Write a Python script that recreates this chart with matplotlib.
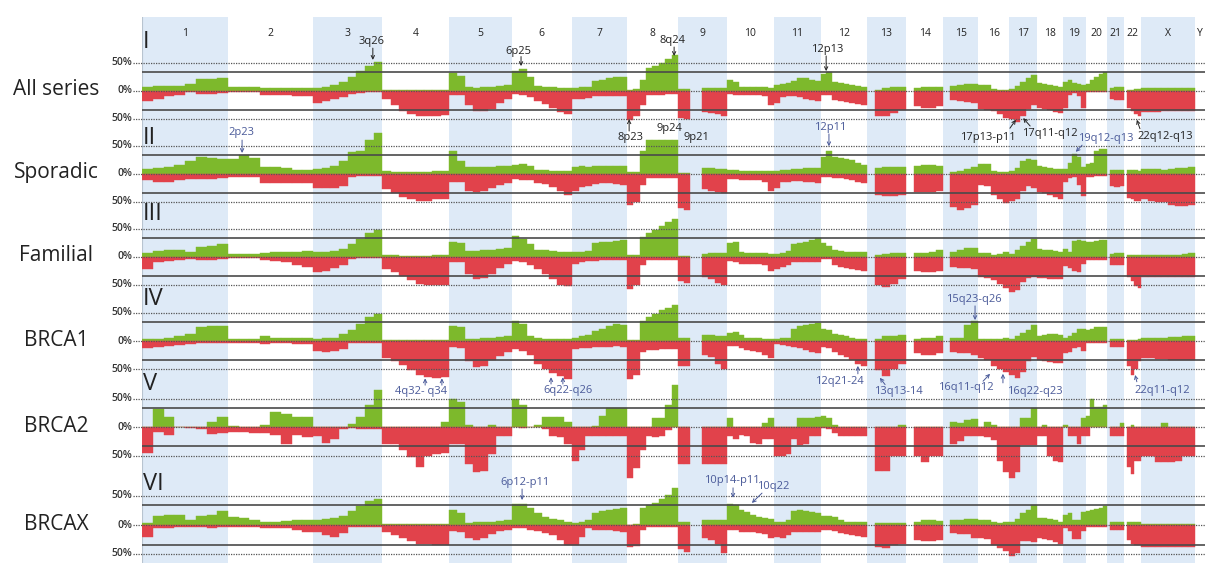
import numpy as np
import matplotlib
matplotlib.use("Agg")
import matplotlib.pyplot as plt
import matplotlib.transforms as mtransforms

nan = float('nan')

CHROMS = ['1', '2', '3', '4', '5', '6', '7', '8', '9', '10', '11', '12', '13', '14',
          '15', '16', '17', '18', '19', '20', '21', '22', 'X', 'Y']
CHROM_LEN = [247, 243, 199, 191, 181, 171, 159, 146, 140, 135, 134, 132, 114, 106,
             100, 89, 79, 76, 64, 62, 47, 50, 155, 58]

PANEL_NAMES = ['All series', 'Sporadic', 'Familial', 'BRCA1', 'BRCA2', 'BRCAX']
PANEL_NUMERALS = ['I', 'II', 'III', 'IV', 'V', 'VI']

# ---- frequency of gains / losses (%) per chromosome, equal bins along each chromosome ----
GAIN_I = [[6, 8, 9, 9, 12, 21, 21, 23], [6, 6, 7, 4, 4, 4, 4, 5], [4, 6, 10, 15, 25, 35, 45, 52],
          [2, 2, 2, 1, 1, 1, 2, 2], [31, 27, 6, 5, 6, 7, 9, 10], [35, 38, 25, 8, 7, 6, 5, 4],
          [5, 6, 7, 18, 20, 22, 24, 25], [2, 3, 20, 40, 45, 50, 56, 63], [3, 3, nan, nan, 4, 4, 4, 4],
          [20, 15, 7, 6, 6, 6, 6, 5], [10, 12, 14, 18, 22, 22, 20, 18], [30, 33, 16, 14, 12, 10, 8, 6],
          [nan, 2, 5, 6, 6], [nan, 5, 6, 6, 6], [nan, 8, 10, 12, 12], [10, 10, 3, 2, 2],
          [3, 8, 16, 22, 28], [14, 12, 10, 8, 6], [15, 20, 14, 12, 10], [12, 20, 25, 30, 33],
          [nan, 4, 6, 6, 6], [nan, 2, 2, 3, 3], [4, 4, 4, 4, 4, 4, 4, 5], []]
LOSS_I = [[18, 14, 10, 7, 3, 5, 5, 4], [3, 3, 3, 7, 8, 8, 9, 10], [22, 18, 14, 12, 5, 4, 3, 3],
          [14, 25, 36, 42, 45, 45, 45, 44], [8, 8, 25, 36, 37, 32, 22, 14], [5, 7, 12, 18, 24, 30, 38, 42],
          [14, 14, 13, 10, 10, 10, 9, 9], [52, 45, 25, 8, 8, 7, 6, 6], [48, 50, nan, nan, 38, 40, 42, 46],
          [6, 7, 7, 7, 8, 8, 10, 25], [22, 12, 10, 10, 12, 14, 16, 18], [8, 8, 16, 18, 20, 22, 24, 26],
          [nan, 45, 46, 40, 34], [nan, 28, 30, 30, 28], [nan, 17, 18, 20, 22], [33, 34, 36, 42, 48],
          [50, 55, 45, 32, 25], [30, 32, 35, 38, 40], [30, 8, 4, 10, 30], [3, 3, 2, 2, 2],
          [nan, 15, 17, 17, 16], [nan, 30, 36, 42, 45], [38, 38, 38, 37, 37, 37, 36, 36], []]

GAIN_II = [[8, 10, 12, 16, 22, 29, 28, 27], [27, 34, 28, 12, 12, 10, 7, 6], [8, 10, 14, 22, 38, 40, 60, 72],
           [4, 3, 3, 3, 3, 3, 4, 4], [40, 22, 12, 12, 12, 12, 14, 14], [16, 18, 14, 6, 6, 5, 5, 5],
           [12, 14, 12, 13, 13, 14, 14, 14], [3, 3, 40, 60, 60, 60, 60, 60], [2, 2, nan, nan, 10, 10, 9, 8],
           [6, 6, 5, 5, 4, 4, 5, 5], [5, 6, 6, 8, 8, 10, 10, 10], [30, 40, 30, 28, 26, 24, 20, 16],
           [nan, 10, 12, 12, 12], [nan, 14, 15, 15, 14], [nan, 3, 4, 8, 12], [18, 18, 4, 3, 3],
           [5, 10, 22, 26, 24], [14, 12, 10, 8, 8], [8, 20, 36, 30, 12], [18, 20, 40, 44, 45],
           [nan, 6, 6, 6, 6], [nan, 6, 7, 6, 5], [8, 8, 8, 6, 8, 10, 10, 12], []]
LOSS_II = [[12, 14, 15, 12, 10, 10, 9, 8], [5, 5, 6, 16, 17, 17, 16, 16], [26, 26, 25, 22, 5, 4, 4, 4],
           [28, 35, 42, 46, 48, 48, 46, 45], [14, 14, 30, 32, 30, 26, 20, 17], [10, 11, 12, 16, 18, 24, 30, 38],
           [30, 24, 22, 18, 17, 17, 18, 20], [55, 50, 20, 8, 8, 7, 7, 7], [62, 64, nan, nan, 28, 30, 32, 34],
           [10, 10, 11, 11, 12, 12, 14, 30], [25, 14, 14, 13, 13, 14, 15, 16], [6, 6, 8, 8, 10, 12, 14, 16],
           [nan, 38, 40, 40, 38], [nan, 32, 33, 33, 30], [nan, 60, 64, 62, 55], [20, 22, 38, 46, 52],
           [48, 45, 30, 22, 25], [32, 35, 38, 42, 46], [14, 8, 5, 20, 40], [5, 5, 4, 4, 4],
           [nan, 22, 24, 24, 22], [nan, 44, 46, 48, 48], [45, 48, 50, 50, 55, 57, 57, 56], []]

GAIN_III = [[6, 11, 12, 12, 8, 18, 20, 22], [5, 5, 5, 6, 8, 9, 9, 10], [8, 9, 10, 14, 22, 32, 42, 48],
            [3, 3, 2, 2, 2, 2, 3, 3], [26, 24, 10, 10, 12, 13, 14, 15], [37, 32, 22, 12, 12, 10, 9, 8],
            [8, 9, 10, 24, 26, 27, 28, 30], [3, 3, 36, 42, 48, 55, 62, 68], [2, 2, nan, nan, 5, 6, 6, 6],
            [24, 26, 8, 7, 6, 6, 6, 5], [5, 6, 10, 22, 25, 27, 30, 33], [25, 20, 12, 10, 9, 8, 8, 8],
            [nan, 3, 5, 6, 6], [nan, 6, 6, 8, 12], [nan, 8, 12, 15, 16], [6, 6, 3, 5, 8],
            [5, 12, 20, 26, 32], [14, 12, 12, 10, 8], [14, 8, 28, 30, 28], [26, 27, 28, 30, 30],
            [nan, 5, 6, 6, 6], [nan, 3, 3, 3, 3], [3, 3, 3, 3, 4, 4, 5, 6], []]
LOSS_III = [[22, 10, 8, 6, 4, 5, 5, 4], [3, 3, 3, 6, 8, 10, 14, 18], [27, 25, 20, 15, 4, 3, 3, 3],
            [22, 27, 34, 42, 48, 50, 51, 50], [9, 9, 30, 40, 38, 30, 20, 12], [8, 10, 14, 22, 30, 40, 50, 52],
            [12, 10, 8, 7, 6, 6, 6, 6], [57, 50, 15, 6, 6, 5, 5, 5], [44, 46, nan, nan, 36, 40, 46, 50],
            [8, 10, 12, 12, 12, 12, 14, 25], [22, 18, 14, 9, 9, 9, 10, 10], [4, 4, 14, 18, 20, 22, 24, 26],
            [nan, 50, 54, 48, 40], [nan, 26, 27, 27, 26], [nan, 18, 20, 20, 22], [36, 38, 42, 48, 55],
            [62, 60, 45, 38, 36], [38, 38, 39, 40, 40], [16, 20, 26, 28, 12], [6, 6, 6, 6, 6],
            [nan, 14, 15, 15, 14], [nan, 36, 44, 52, 56], [36, 36, 36, 36, 36, 36, 36, 36], []]

GAIN_IV = [[3, 3, 6, 9, 12, 25, 26, 27], [3, 3, 4, 8, 6, 5, 5, 6], [4, 5, 6, 12, 20, 30, 42, 48],
           [1, 1, 1, 1, 1, 1, 1, 1], [26, 24, 4, 4, 5, 6, 7, 8], [36, 30, 8, 5, 4, 4, 4, 4],
           [6, 8, 10, 18, 22, 26, 30, 28], [1, 2, 35, 42, 48, 54, 58, 63], [5, 6, nan, nan, 10, 10, 9, 8],
           [14, 16, 10, 6, 5, 5, 4, 4], [4, 5, 6, 22, 26, 28, 30, 32], [22, 20, 12, 10, 8, 6, 4, 3],
           [nan, 4, 8, 9, 10], [nan, 4, 5, 5, 8], [nan, 5, 6, 28, 36], [3, 3, 3, 4, 5],
           [4, 8, 14, 20, 28], [8, 10, 12, 12, 10], [6, 8, 14, 22, 22], [20, 22, 24, 24, 25],
           [nan, 3, 3, 3, 3], [nan, 2, 2, 2, 3], [6, 6, 6, 6, 7, 7, 8, 8], []]
LOSS_IV = [[13, 11, 8, 7, 5, 4, 3, 3], [3, 4, 4, 5, 4, 4, 5, 5], [18, 20, 18, 14, 4, 3, 3, 3],
           [30, 36, 42, 52, 60, 64, 66, 64], [10, 12, 36, 46, 44, 34, 26, 20], [14, 18, 24, 40, 50, 56, 62, 68],
           [14, 13, 12, 10, 10, 10, 9, 10], [68, 60, 20, 16, 16, 15, 15, 15], [44, 45, nan, nan, 25, 28, 40, 50],
           [8, 9, 12, 16, 18, 20, 24, 30], [6, 7, 8, 10, 12, 16, 20, 22], [10, 12, 20, 24, 28, 34, 40, 44],
           [nan, 52, 62, 50, 40], [nan, 22, 24, 24, 22], [nan, 20, 22, 22, 24], [30, 34, 44, 50, 54],
           [60, 66, 55, 35, 28], [33, 35, 37, 38, 39], [22, 20, 12, 10, 18], [4, 4, 4, 4, 4],
           [nan, 10, 10, 10, 10], [nan, 45, 60, 50, 36], [30, 30, 31, 31, 33, 33, 33, 33], []]

GAIN_V = [[0, 32, 18, 0, 0, 0, 10, 18], [2, 0, 0, 4, 26, 24, 18, 18], [0, 0, 0, 0, 6, 18, 40, 66],
          [0, 0, 0, 0, 0, 0, 0, 10], [50, 45, 4, 0, 0, 4, 0, 0], [50, 40, 0, 4, 18, 18, 18, 10],
          [0, 0, 0, 2, 20, 34, 34, 34], [0, 0, 0, 0, 16, 16, 40, 75], [0, 0, nan, nan, 0, 0, 0, 0],
          [16, 0, 0, 0, 0, 0, 8, 16], [0, 0, 0, 0, 16, 16, 16, 18], [20, 16, 4, 0, 0, 0, 0, 0],
          [nan, 0, 0, 0, 4], [nan, 0, 0, 0, 0], [nan, 10, 8, 12, 14], [0, 10, 4, 0, 0],
          [0, 0, 16, 16, 34], [0, 4, 0, 0, 0], [4, 0, 0, 0, 16], [20, 50, 35, 35, 40],
          [nan, 0, 0, 0, 8], [nan, 0, 4, 0, 0], [0, 0, 0, 8, 0, 0, 0, 0], []]
LOSS_V = [[46, 8, 14, 0, 2, 3, 12, 10], [8, 8, 10, 10, 13, 30, 14, 18], [15, 28, 20, 4, 2, 4, 3, 4],
          [30, 30, 40, 52, 70, 50, 48, 46], [30, 30, 65, 80, 78, 48, 15, 15], [0, 2, 0, 0, 4, 15, 18, 30],
          [60, 40, 15, 15, 15, 16, 16, 16], [90, 72, 40, 15, 18, 15, 5, 0], [65, 65, nan, nan, 65, 65, 65, 65],
          [16, 20, 14, 16, 28, 30, 20, 20], [50, 50, 48, 20, 32, 30, 16, 16], [2, 4, 10, 16, 16, 16, 16, 16],
          [nan, 78, 78, 50, 50], [nan, 50, 62, 50, 50], [nan, 30, 24, 16, 16], [16, 18, 22, 60, 80],
          [90, 80, 32, 32, 32], [16, 16, 50, 60, 62], [0, 16, 16, 30, 16], [16, 0, 0, 0, 0],
          [nan, 16, 16, 16, 16], [nan, 70, 82, 60, 60], [50, 50, 62, 62, 62, 60, 50, 50], []]

GAIN_VI = [[3, 16, 17, 17, 8, 16, 18, 24], [14, 12, 8, 6, 6, 7, 8, 8], [8, 10, 12, 16, 24, 32, 42, 44],
           [1, 1, 1, 1, 1, 1, 1, 1], [26, 20, 4, 5, 6, 6, 7, 8], [36, 36, 30, 20, 14, 10, 8, 6],
           [4, 6, 8, 20, 24, 26, 28, 30], [0, 2, 30, 34, 38, 44, 52, 64], [6, 5, nan, nan, 8, 9, 9, 8],
           [36, 34, 26, 22, 18, 14, 12, 10], [5, 6, 8, 24, 26, 24, 22, 20], [16, 15, 14, 8, 6, 6, 5, 5],
           [nan, 3, 3, 3, 3], [nan, 6, 8, 8, 7], [nan, 8, 9, 10, 10], [8, 9, 5, 4, 6],
           [6, 10, 20, 26, 34], [12, 12, 10, 8, 6], [18, 20, 8, 9, 22], [24, 26, 28, 30, 32],
           [nan, 6, 6, 6, 6], [nan, 5, 6, 6, 6], [1, 1, 1, 1, 1, 1, 1, 1], []]
LOSS_VI = [[20, 6, 5, 4, 3, 3, 6, 4], [3, 3, 3, 5, 6, 6, 8, 12], [12, 18, 20, 14, 4, 3, 3, 3],
           [12, 18, 22, 28, 32, 33, 34, 34], [10, 12, 22, 25, 22, 16, 10, 8], [5, 6, 8, 10, 14, 18, 25, 34],
           [34, 20, 6, 8, 9, 9, 10, 12], [38, 36, 8, 4, 3, 3, 3, 3], [42, 46, nan, nan, 22, 26, 32, 48],
           [8, 9, 12, 12, 12, 13, 15, 22], [20, 22, 18, 12, 12, 12, 12, 12], [8, 9, 10, 14, 15, 17, 19, 21],
           [nan, 38, 40, 34, 32], [nan, 26, 27, 28, 26], [nan, 14, 15, 16, 22], [22, 24, 34, 40, 45],
           [54, 48, 28, 28, 30], [22, 24, 26, 30, 32], [6, 10, 24, 24, 10], [3, 3, 3, 3, 3],
           [nan, 9, 9, 9, 9], [nan, 26, 32, 35, 34], [38, 38, 38, 38, 38, 38, 38, 38], []]

GAINS = [GAIN_I, GAIN_II, GAIN_III, GAIN_IV, GAIN_V, GAIN_VI]
LOSSES = [LOSS_I, LOSS_II, LOSS_III, LOSS_IV, LOSS_V, LOSS_VI]

# annotations: (panel, label, text (Mb, %), [arrow (tail Mb, tail %, tip Mb, tip %) ...])
ANNOTATIONS = [
    (0, '3q26', (659, 87), [(662, 76, 662, 55)]),
    (0, '6p25', (1080, 70), [(1087, 61, 1087, 44)]),
    (0, '8q24', (1520, 90), [(1526, 78, 1526, 62)]),
    (0, '12p13', (1966, 74), [(1962, 62, 1962, 35)]),
    (0, '8p23', (1402, -83), [(1397, -72, 1397, -51)]),
    (0, '9p24', (1514, -67), []),
    (0, '9p21', (1591, -83), []),
    (0, '17p13-p11', (2426, -83), [(2489, -67, 2506, -52)]),
    (0, '17q11-q12', (2603, -76), [(2547, -63, 2527, -49)]),
    (0, '22q12-q13', (2935, -81), [(2862, -68, 2853, -52)]),
    (1, '2p23', (284, 74), [(287, 60, 287, 37)]),
    (1, '12p11', (1973, 83), [(1970, 71, 1970, 49)]),
    (1, '19q12-q13', (2765, 62), [(2696, 51, 2678, 39)]),
    (3, '15q23-q26', (2386, 74), [(2389, 62, 2389, 37)]),
    (3, '4q32- q34', (800, -89), [(812, -78, 812, -66), (860, -78, 860, -66)]),
    (3, '6q22-q26', (1222, -88), [(1173, -76, 1173, -64), (1207, -76, 1207, -64)]),
    (3, '12q21-24', (1999, -72), [(2053, -58, 2053, -44)]),
    (3, '13q13-14', (2168, -89), [(2131, -77, 2116, -65)]),
    (3, '16q11-q12', (2363, -83), [(2412, -71, 2432, -58)]),
    (3, '16q22-q23', (2561, -90), [(2469, -74, 2469, -58)]),
    (3, '22q11-q12', (2925, -87), [(2853, -72, 2848, -60)]),
    (5, '6p12-p11', (1098, 74), [(1090, 62, 1090, 43)]),
    (5, '10p14-p11', (1692, 76), [(1695, 64, 1695, 47)]),
    (5, '10q22', (1810, 66), [(1778, 55, 1749, 38)]),
]

# ---------------- style / layout ----------------
plt.rcParams['font.family'] = ['Open Sans', 'DejaVu Sans']
GREEN = '#7db92c'
RED = '#e1424b'
BAND = '#deeaf7'
ANN_BLACK = '#222222'
ANN_BLUE = '#4a5a99'

W, H = 1205, 563
X0_PX, X1_PX = 142, 1205
PX_PER_MB = 0.3487
XMAX = (X1_PX - X0_PX) / PX_PER_MB
PANEL_Y0 = [90.7, 173.7, 256.8, 341.0, 427.2, 525.0]
PANEL_PX50 = [28, 28, 28, 28.3, 28.3, 29]
NUMERAL_Y = [42, 138, 214, 299, 384, 484]
R = 100

fig = plt.figure(figsize=(W / 100, H / 100), dpi=100)
fig.patch.set_facecolor('white')

starts = np.concatenate([[0], np.cumsum(CHROM_LEN)[:-1]])

# background chromosome bands
bg = fig.add_axes([X0_PX / W, 0, (X1_PX - X0_PX) / W, (H - 17) / H])
bg.set_xlim(0, XMAX)
bg.set_ylim(0, 1)
bg.axis('off')
for i, (s, L) in enumerate(zip(starts, CHROM_LEN)):
    if i % 2 == 0:
        bg.axvspan(s, s + L, color=BAND, lw=0)
    cx = s + L / 2 if CHROMS[i] != 'Y' else s + 14
    bg.text(cx, (H - 33) / (H - 17), CHROMS[i], ha='center', va='center',
            fontsize=7.5, color='#222222')
bg.axvline(0, color='#b8c4d0', lw=0.8)

# panels
for k in range(6):
    y0 = PANEL_Y0[k]
    s = PANEL_PX50[k] / 50.0
    ax = fig.add_axes([X0_PX / W, 1 - (y0 + R * s) / H, (X1_PX - X0_PX) / W, 2 * R * s / H])
    ax.set_xlim(0, XMAX)
    ax.set_ylim(-R, R)
    ax.axis('off')
    ax.patch.set_alpha(0)

    for ci, (st, L) in enumerate(zip(starts, CHROM_LEN)):
        g = np.array(GAINS[k][ci], dtype=float)
        l = np.array(LOSSES[k][ci], dtype=float)
        n = len(g)
        if n == 0:
            continue
        w = L / n
        lefts = st + w * np.arange(n)
        ax.bar(lefts, g, width=w, align='edge', color=GREEN, edgecolor=GREEN, lw=0.3, zorder=2)
        ax.bar(lefts, -l, width=w, align='edge', color=RED, edgecolor=RED, lw=0.3, zorder=2)

    xm = -9.0 / (X1_PX - X0_PX)
    for yv in (50, 0, -50):
        ax.axhline(yv, xmin=xm, xmax=1, color='#555555', lw=0.9, ls=(0, (1, 1)), zorder=3, clip_on=False)
    for yv in (34, -34):
        ax.axhline(yv, color='#4a4a4a', lw=1.2, zorder=3)

    trans = mtransforms.blended_transform_factory(ax.transAxes, ax.transData)
    for yv, lab in ((50, '50%'), (0, '0%'), (-50, '50%')):
        ax.text(xm - 0.001, yv, lab, transform=trans, ha='right', va='center',
                fontsize=7.5, color='#333333', fontweight='semibold')

    fig.text(56 / W, 1 - (y0 - 1) / H, PANEL_NAMES[k], ha='center', va='center',
             fontsize=15, color='#222222')
    fig.text(143 / W, 1 - NUMERAL_Y[k] / H, PANEL_NUMERALS[k], ha='left', va='center',
             fontsize=17, color='#222222')

    for (pk, lab, (tx, ty), arrows) in ANNOTATIONS:
        if pk != k:
            continue
        col = ANN_BLACK if k == 0 else ANN_BLUE
        ax.text(tx, ty, lab, ha='center', va='center', fontsize=8, color=col, zorder=5)
        for (ax0, ay0, ax1, ay1) in arrows:
            ax.annotate('', xy=(ax1, ay1), xytext=(ax0, ay0),
                        arrowprops=dict(arrowstyle='->', color=col, lw=0.7, shrinkA=0, shrinkB=0,
                                        mutation_scale=6), zorder=5)

fig.savefig('out.png', dpi=100, facecolor='white')
